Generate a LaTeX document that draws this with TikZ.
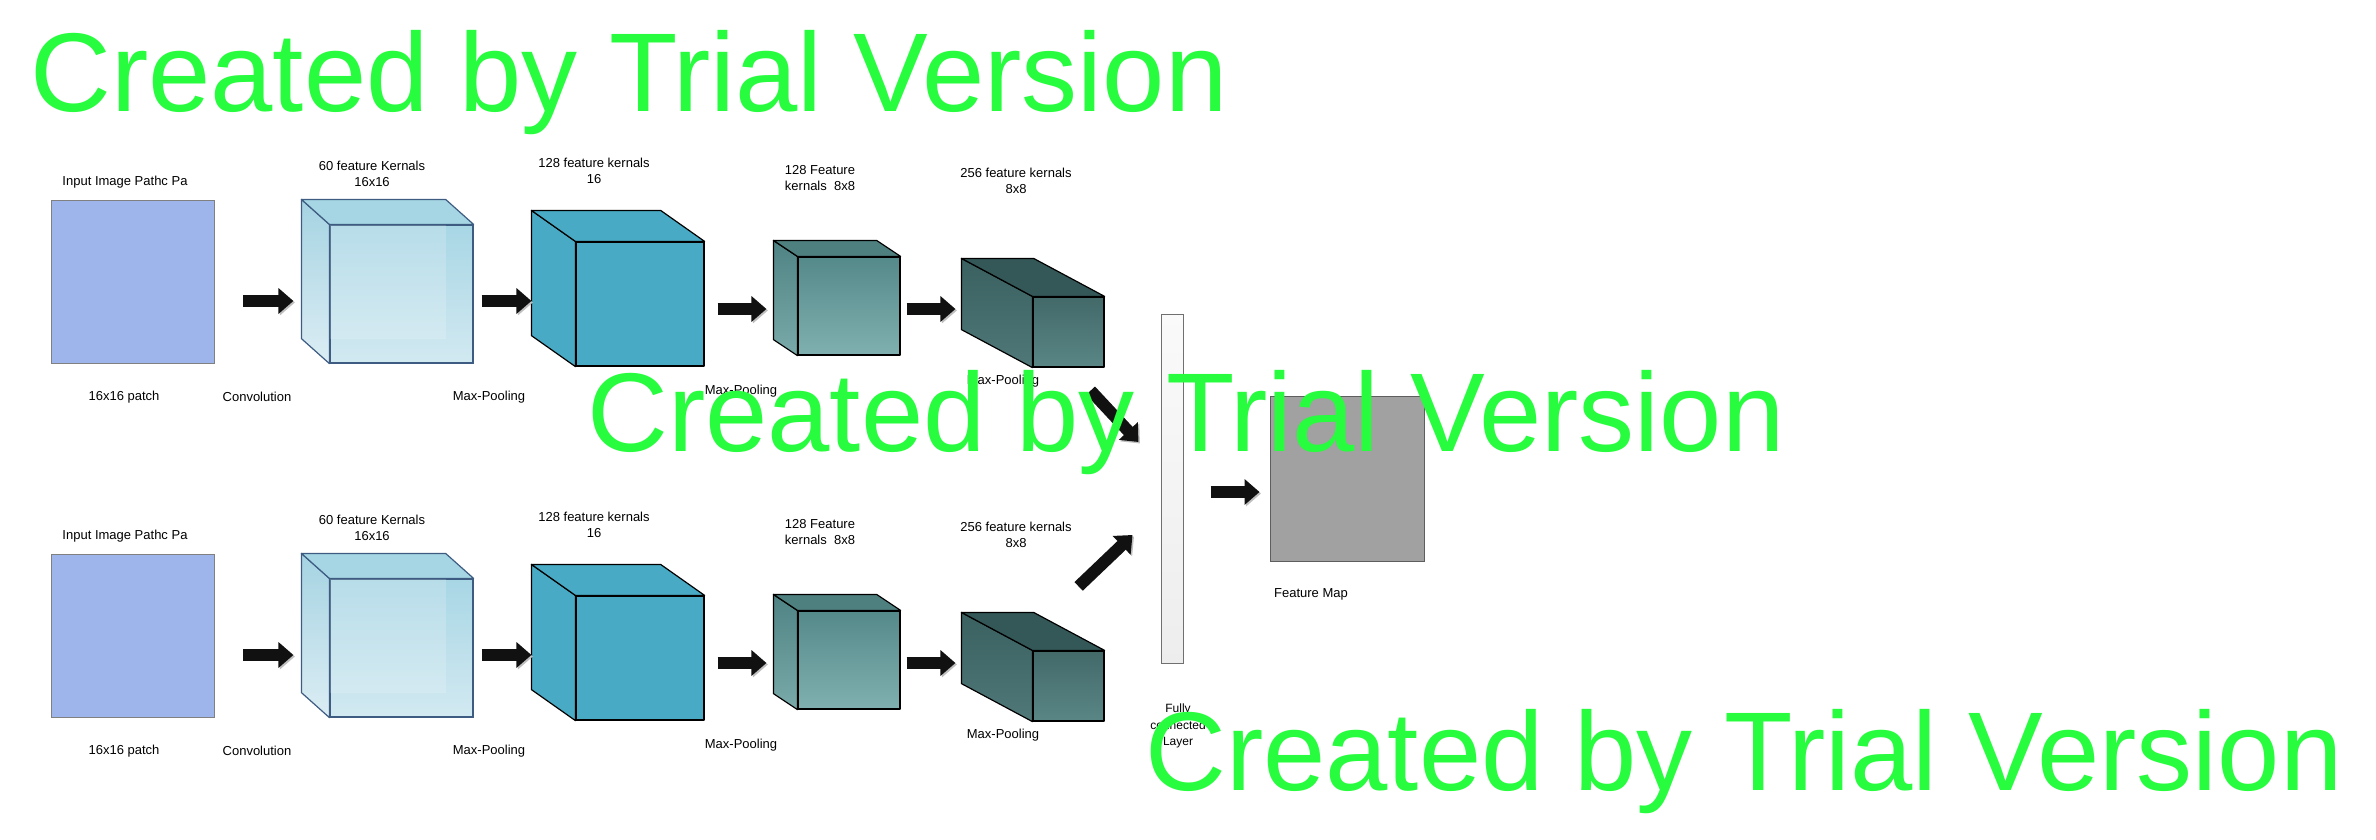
\documentclass[tikz,border=0pt]{standalone}
\usepackage{fontspec}
\setmainfont{Liberation Sans}
\usetikzlibrary{arrows.meta}
\definecolor{inputblue}{HTML}{9DB5EA}
\definecolor{glassline}{HTML}{3E5C82}
\definecolor{glasstop}{HTML}{A8D6E5}
\definecolor{glassbot}{HTML}{D2E9F1}
\definecolor{glassside}{HTML}{A5D3E2}
\definecolor{glasssidebot}{HTML}{DCEDF4}
\definecolor{glasslid}{HTML}{A6D6E4}
\definecolor{poolteal}{HTML}{48AAC4}
\definecolor{midtop}{HTML}{558A8A}
\definecolor{midbot}{HTML}{80B0B0}
\definecolor{midside}{HTML}{4F8383}
\definecolor{midsidebot}{HTML}{7AAAAA}
\definecolor{midlid}{HTML}{4F8080}
\definecolor{deeptop}{HTML}{436969}
\definecolor{deepbot}{HTML}{5A8686}
\definecolor{deepside}{HTML}{3A6060}
\definecolor{deepsidebot}{HTML}{507878}
\definecolor{deeplid}{HTML}{345757}
\definecolor{arrowblack}{HTML}{111111}
\definecolor{trialgreen}{RGB}{40,252,62}
\begin{document}
\begin{tikzpicture}[x=1pt, y=-1pt,
    lbl/.style={font=\fontsize{13}{16}\selectfont, align=center, inner sep=0},
    box/.style={inner sep=0, minimum width=#1},
    face/.style={line width=1.2pt, line join=round},
    blockarr/.style={draw=arrowblack, line width=12pt, -{Triangle[length=15pt,width=25pt]},
      preaction={draw=black!25, transform canvas={shift={(1.5pt,-1.5pt)}}}},
    watermark/.style={font=\fontsize{112}{130}\selectfont, text=trialgreen, anchor=base west, inner sep=0}]
  \useasboundingbox (0,0) rectangle (2376,840);
  \foreach \r/\oy in {a/0, b/354} {
    \begin{scope}[shift={(0,\oy)}]
      % input patch
      \node[box=163, minimum height=163, draw=black!50, fill=inputblue, line width=0.9pt] (inp\r) at (132.5,281.5) {};
      \node[lbl] (tinp\r) at (125,182) {Input Image Pathc Pa};
      \node[lbl] (binp\r) at (124,397) {16x16 patch};
      \node[lbl] (conv\r) at (257,397) {Convolution};
      % convolution cube
      \node[box=143, minimum height=138, face, draw=glassline, top color=glasstop, bottom color=glassbot] (ca\r) at (401.5,294) {};
      \fill[white, opacity=0.18] (ca\r.north west) rectangle ([shift={(-28,-25)}]ca\r.south east);
      \draw[face, draw=glassline] (ca\r.north west) rectangle (ca\r.south east);
      \shade[face, draw=glassline, top color=glassside, bottom color=glasssidebot] (ca\r.north west) -- ([shift={(-28,-25)}]ca\r.north west) -- ([shift={(-28,-25)}]ca\r.south west) -- (ca\r.south west) -- cycle;
      \fill[glasslid, draw=glassline, face] (ca\r.north west) -- ([shift={(-28,-25)}]ca\r.north west) -- ([shift={(-28,-25)}]ca\r.north east) -- (ca\r.north east) -- cycle;
      \node[lbl] (tca\r) at (372,174) {60 feature Kernals\\16x16};
      \node[lbl] (mpa\r) at (489,397) {Max-Pooling};
      % first pooling cube
      \node[box=128, minimum height=124, face, draw=black, fill=poolteal] (cb\r) at (640,304) {};
      \fill[poolteal, draw=black, face] (cb\r.north west) -- ([shift={(-44,-31)}]cb\r.north west) -- ([shift={(-44,-31)}]cb\r.south west) -- (cb\r.south west) -- cycle;
      \fill[poolteal, draw=black, face] (cb\r.north west) -- ([shift={(-44,-31)}]cb\r.north west) -- ([shift={(-44,-31)}]cb\r.north east) -- (cb\r.north east) -- cycle;
      \node[lbl] (tcb\r) at (594,171) {128 feature kernals\\16};
      % 8x8 cube
      \node[box=102, minimum height=98, face, draw=black, top color=midtop, bottom color=midbot] (cc\r) at (849,306) {};
      \shade[face, draw=black, top color=midside, bottom color=midsidebot] (cc\r.north west) -- ([shift={(-24,-16)}]cc\r.north west) -- ([shift={(-24,-16)}]cc\r.south west) -- (cc\r.south west) -- cycle;
      \fill[midlid, draw=black, face] (cc\r.north west) -- ([shift={(-24,-16)}]cc\r.north west) -- ([shift={(-24,-16)}]cc\r.north east) -- (cc\r.north east) -- cycle;
      \node[lbl] (tcc\r) at (820,178) {128 Feature\\kernals\ \ 8x8};
      \node[lbl] (mpc\r) at (741,391) {Max-Pooling};
      % 256 kernel cube
      \node[box=71, minimum height=70, face, draw=black, top color=deeptop, bottom color=deepbot] (cd\r) at (1068.5,332) {};
      \shade[face, draw=black, top color=deepside, bottom color=deepsidebot] (cd\r.north west) -- ([shift={(-71,-38)}]cd\r.north west) -- ([shift={(-71,-38)}]cd\r.south west) -- (cd\r.south west) -- cycle;
      \fill[deeplid, draw=black, face] (cd\r.north west) -- ([shift={(-71,-38)}]cd\r.north west) -- ([shift={(-71,-38)}]cd\r.north east) -- (cd\r.north east) -- cycle;
      \node[lbl] (tcd\r) at (1016,181) {256 feature kernals\\8x8};
      \node[lbl] (mpd\r) at (1003,381) {Max-Pooling};
      % arrows along the row
      \draw[blockarr] ([shift={(29,19.5)}]inp\r.east) -- ([shift={(-36,7)}]ca\r.west);
      \draw[blockarr] ([shift={(8,7)}]ca\r.east) -- ([shift={(-44,-3)}]cb\r.west);
      \draw[blockarr] ([shift={(13,5)}]cb\r.east) -- ([shift={(-31,3)}]cc\r.west);
      \draw[blockarr] ([shift={(6,3)}]cc\r.east) -- ([shift={(-77,-23)}]cd\r.west);
    \end{scope}
  }
  % fully connected layer and feature map
  \node[box=22, minimum height=349, draw=black!56, line width=1pt, top color=black!2, bottom color=black!7] (fc) at (1172,488.5) {};
  \node[lbl, font=\fontsize{12}{16.5}\selectfont] (tfc) at (1178,726) {Fully\\connected\\Layer};
  \node[box=154, minimum height=165, draw=black!63, line width=1pt, fill=black!37] (fmap) at (1347,478.5) {};
  \node[lbl] (tfmap) at (1311,594) {Feature Map};
  \draw[blockarr] ([shift={(-14,23)}]cda.south east) -- ([shift={(-22,-46.5)}]fc.west);
  \draw[blockarr] ([shift={(-26,-64)}]cdb.north east) -- ([shift={(-28,46.5)}]fc.west);
  \draw[blockarr] ([shift={(27,3.5)}]fc.east) -- ([shift={(-10,13.5)}]fmap.west);
  % trial stamps
  \node[watermark] (wm1) at (30,112) {Created by Trial Version};
  \node[watermark] (wm2) at (587,451) {Created by Trial Version};
  \node[watermark] (wm3) at (1145,790) {Created by Trial Version};
\end{tikzpicture}
\end{document}
